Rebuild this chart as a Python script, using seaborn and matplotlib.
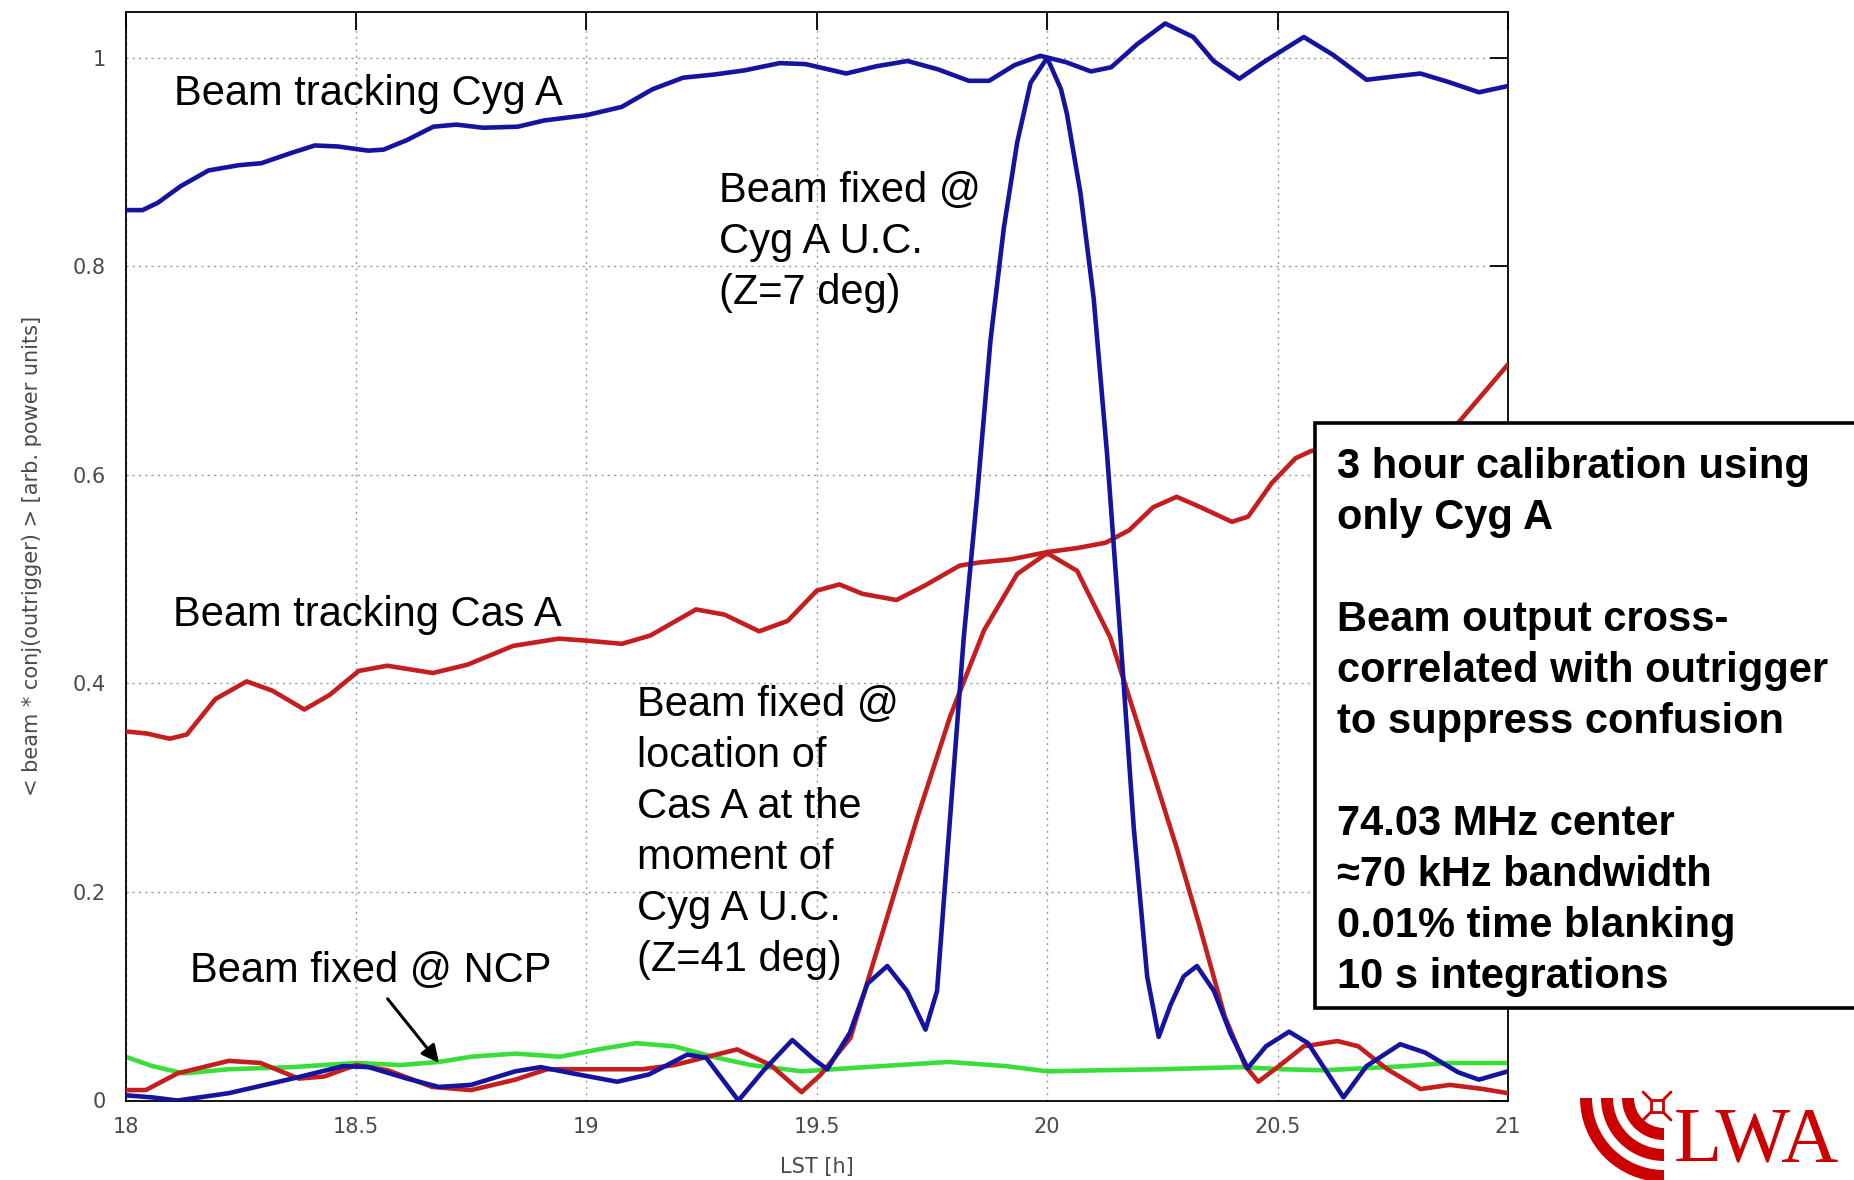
import numpy as np
import pandas as pd
import matplotlib
matplotlib.use("Agg")
import matplotlib.pyplot as plt
import seaborn as sns
from matplotlib.patches import Rectangle, Wedge
from matplotlib.ticker import FuncFormatter

# ---------------- data ----------------
cyg_track_x = [18.0, 18.037, 18.07, 18.12, 18.18, 18.245, 18.295, 18.361, 18.411, 18.461,
               18.527, 18.56, 18.61, 18.668, 18.718, 18.776, 18.851, 18.909, 19.0, 19.077,
               19.144, 19.21, 19.277, 19.343, 19.42, 19.476, 19.564, 19.63, 19.697, 19.763,
               19.83, 19.874, 19.929, 19.985, 20.04, 20.095, 20.139, 20.195, 20.256, 20.317,
               20.361, 20.417, 20.47, 20.557, 20.62, 20.693, 20.75, 20.81, 20.87, 20.937, 21.0]
cyg_track_y = [0.854, 0.854, 0.861, 0.877, 0.892, 0.897, 0.899, 0.909, 0.916, 0.915,
               0.911, 0.912, 0.921, 0.934, 0.936, 0.933, 0.934, 0.940, 0.945, 0.953,
               0.970, 0.981, 0.984, 0.988, 0.995, 0.994, 0.985, 0.992, 0.997, 0.989,
               0.978, 0.978, 0.993, 1.002, 0.996, 0.987, 0.991, 1.013, 1.033, 1.020,
               0.997, 0.980, 0.996, 1.020, 1.003, 0.979, 0.982, 0.985, 0.977, 0.967, 0.973]

cas_track_x = [18.0, 18.046, 18.096, 18.133, 18.195, 18.263, 18.319, 18.388, 18.443, 18.506,
               18.568, 18.667, 18.742, 18.841, 18.94, 19.002, 19.077, 19.139, 19.238, 19.3,
               19.375, 19.437, 19.5, 19.549, 19.599, 19.673, 19.735, 19.81, 19.852, 19.921,
               20.0, 20.067, 20.127, 20.178, 20.23, 20.281, 20.333, 20.401, 20.436, 20.487,
               20.539, 20.573, 20.65, 20.75, 20.84, 20.892, 21.0]
cas_track_y = [0.354, 0.352, 0.347, 0.351, 0.385, 0.402, 0.393, 0.375, 0.389, 0.412,
               0.417, 0.410, 0.418, 0.436, 0.443, 0.441, 0.438, 0.446, 0.471, 0.466,
               0.450, 0.460, 0.489, 0.495, 0.486, 0.480, 0.494, 0.513, 0.516, 0.519,
               0.526, 0.530, 0.535, 0.547, 0.569, 0.579, 0.569, 0.555, 0.560, 0.592,
               0.616, 0.623, 0.628, 0.632, 0.640, 0.650, 0.706]

cyg_fixed_x = [18.0, 18.058, 18.113, 18.224, 18.362, 18.473, 18.528, 18.611, 18.68, 18.75,
               18.846, 18.901, 18.97, 19.067, 19.136, 19.219, 19.26, 19.33, 19.385, 19.447,
               19.495, 19.523, 19.572, 19.61, 19.653, 19.696, 19.736, 19.761, 19.79, 19.819,
               19.848, 19.877, 19.906, 19.935, 19.964, 20.0, 20.03, 20.043, 20.072, 20.101,
               20.13, 20.159, 20.188, 20.217, 20.242, 20.268, 20.296, 20.325, 20.362, 20.398,
               20.435, 20.475, 20.525, 20.566, 20.643, 20.693, 20.766, 20.82, 20.892, 20.937, 21.0]
cyg_fixed_y = [0.005, 0.003, 0.0, 0.007, 0.021, 0.033, 0.032, 0.021, 0.013, 0.015,
               0.028, 0.032, 0.026, 0.018, 0.025, 0.044, 0.041, 0.0, 0.029, 0.058,
               0.039, 0.030, 0.065, 0.112, 0.129, 0.105, 0.068, 0.105, 0.275, 0.444,
               0.580, 0.729, 0.837, 0.919, 0.976, 1.0, 0.970, 0.946, 0.871, 0.769,
               0.620, 0.444, 0.261, 0.119, 0.061, 0.092, 0.119, 0.129, 0.105, 0.064,
               0.031, 0.052, 0.066, 0.055, 0.003, 0.033, 0.054, 0.046, 0.027, 0.020, 0.028]

cas_fixed_x = [18.0, 18.044, 18.113, 18.224, 18.293, 18.376, 18.431, 18.5, 18.569, 18.666,
               18.75, 18.846, 18.915, 19.0, 19.122, 19.191, 19.327, 19.4, 19.467, 19.509,
               19.573, 19.646, 19.718, 19.79, 19.863, 19.935, 20.0, 20.065, 20.137, 20.21,
               20.282, 20.331, 20.385, 20.43, 20.458, 20.503, 20.557, 20.63, 20.675, 20.738,
               20.81, 20.874, 20.946, 21.0]
cas_fixed_y = [0.010, 0.010, 0.026, 0.038, 0.036, 0.021, 0.023, 0.034, 0.029, 0.013,
               0.010, 0.020, 0.030, 0.030, 0.030, 0.034, 0.049, 0.034, 0.008, 0.025,
               0.060, 0.166, 0.271, 0.369, 0.451, 0.505, 0.525, 0.508, 0.444, 0.342,
               0.241, 0.167, 0.081, 0.033, 0.018, 0.033, 0.052, 0.057, 0.052, 0.030,
               0.011, 0.015, 0.011, 0.007]

ncp_x = [18.0, 18.058, 18.127, 18.224, 18.362, 18.5, 18.597, 18.68, 18.75, 18.846,
         18.943, 19.026, 19.108, 19.191, 19.274, 19.357, 19.468, 19.606, 19.786, 19.91,
         20.0, 20.115, 20.25, 20.42, 20.51, 20.6, 20.69, 20.78, 20.87, 21.0]
ncp_y = [0.042, 0.033, 0.026, 0.030, 0.032, 0.036, 0.034, 0.037, 0.042, 0.045,
         0.042, 0.049, 0.055, 0.052, 0.042, 0.034, 0.028, 0.032, 0.037, 0.033,
         0.028, 0.029, 0.030, 0.032, 0.030, 0.029, 0.031, 0.033, 0.036, 0.036]

x_ticks = [18, 18.5, 19, 19.5, 20, 20.5, 21]
y_ticks = [0, 0.2, 0.4, 0.6, 0.8, 1.0]

box_lines = ["3 hour calibration using", "only Cyg A", "",
             "Beam output cross-", "correlated with outrigger", "to suppress confusion", "",
             "74.03 MHz center", "\u224870 kHz bandwidth", "0.01% time blanking",
             "10 s integrations"]

BLUE = "#1414a0"
RED = "#c41e1e"
GREEN = "#3ade3a"

# ---------------- figure ----------------
sns.set_theme(style="white")
plt.rcParams['font.family'] = ['DejaVu Sans']

W, H = 1854, 1180
fig = plt.figure(figsize=(W / 100, H / 100), dpi=100)
L, R, B, T = 125.5, 1508, 1100.5, 12
ax = fig.add_axes([L / W, 1 - B / H, (R - L) / W, (B - T) / H])

series = [
    (ncp_x, ncp_y, GREEN, 2),
    (cas_track_x, cas_track_y, RED, 3),
    (cas_fixed_x, cas_fixed_y, RED, 3),
    (cyg_track_x, cyg_track_y, BLUE, 4),
    (cyg_fixed_x, cyg_fixed_y, BLUE, 4),
]
for xs, ys, col, z in series:
    sns.lineplot(x=xs, y=ys, ax=ax, color=col, linewidth=3.3, zorder=z,
                 solid_joinstyle='round', solid_capstyle='round')

ax.set_xlim(18, 21)
ax.set_ylim(0, 1.044)
ax.set_xticks(x_ticks)
ax.set_yticks(y_ticks)
fmt = FuncFormatter(lambda v, p: "%g" % v)
ax.xaxis.set_major_formatter(fmt)
ax.yaxis.set_major_formatter(fmt)
ax.tick_params(direction='in', top=True, right=True, length=13, width=1.3,
               color='black', labelsize=15, labelcolor='#4a4a4a')
ax.tick_params(axis='y', pad=14)
ax.tick_params(axis='x', pad=12)
ax.grid(True, linestyle=(0, (1.5, 3)), color='#9a9a9a', linewidth=1.0)
for s in ax.spines.values():
    s.set_color('black')
    s.set_linewidth(1.3)
ax.set_xlabel("LST [h]", fontsize=15, color='#4a4a4a', labelpad=14)
ax.set_ylabel("< beam * conj(outrigger) > [arb. power units]", fontsize=15,
              color='#4a4a4a', labelpad=22)

# ---------------- in-plot labels ----------------
lab = dict(fontsize=30, family=['Liberation Sans', 'DejaVu Sans'], color='black',
           ha='left', va='baseline', zorder=6)
step = 51 / 1042.7


def put_lines(lines, x, y0):
    for i, s in enumerate(lines):
        ax.text(x, y0 - i * step, s, **lab)


put_lines(["Beam tracking Cyg A"], 18.105, 0.955)
put_lines(["Beam fixed @", "Cyg A U.C.", "(Z=7 deg)"], 19.288, 0.862)
put_lines(["Beam tracking Cas A"], 18.104, 0.455)
put_lines(["Beam fixed @", "location of", "Cas A at the", "moment of", "Cyg A U.C.",
           "(Z=41 deg)"], 19.109, 0.369)
put_lines(["Beam fixed @ NCP"], 18.139, 0.114)
ax.annotate("", xy=(18.684, 0.034), xytext=(18.565, 0.0996),
            arrowprops=dict(arrowstyle='-|>', color='black', lw=2.2, mutation_scale=26))

# ---------------- overlay: info box + logo ----------------
ov = fig.add_axes([0, 0, 1, 1], zorder=10)
ov.set_xlim(0, W)
ov.set_ylim(H, 0)
ov.axis('off')
ov.patch.set_alpha(0)

ov.add_patch(Rectangle((1315, 423), 600, 585, facecolor='white', edgecolor='black',
                       linewidth=2.6))
for i, s in enumerate(box_lines):
    if s:
        ov.text(1337, 478 + i * 51, s, fontsize=30, fontweight='bold',
                family=['Liberation Sans', 'DejaVu Sans'], ha='left', va='baseline',
                color='black')

LOGO = "#cc0000"
cx, cy = 1664, 1098
for r in [84, 63, 42]:
    ov.add_patch(Wedge((cx, cy), r, 90, 180, width=12, facecolor=LOGO, edgecolor='none'))
# star
sx, sy = 1657, 1106
ov.add_patch(Rectangle((sx - 6, sy - 6), 12, 12, facecolor='none', edgecolor=LOGO, lw=2))
for dx, dy in [(-1, -1), (1, -1), (-1, 1), (1, 1)]:
    ov.plot([sx + 6 * dx, sx + 14 * dx], [sy + 6 * dy, sy + 14 * dy], color=LOGO, lw=2)
ov.text(1674, 1178, "LWA", fontsize=57, family=['Liberation Serif', 'DejaVu Serif'],
        color=LOGO, ha='left', va='bottom')

fig.savefig("out.png", dpi=100)
